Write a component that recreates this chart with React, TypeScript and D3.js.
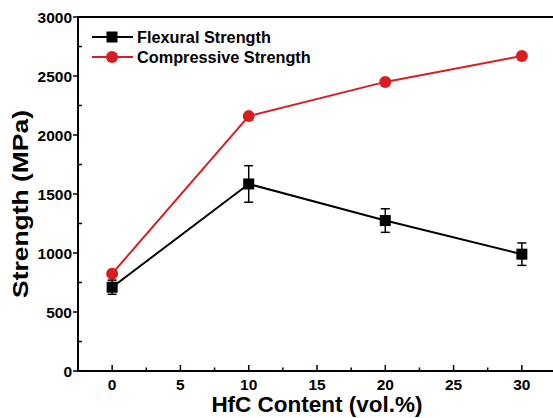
import React, { useEffect, useRef } from 'react';
import * as d3 from 'd3';

const contents = [0, 10, 20, 30];
const flexural = [710, 1585, 1275, 990];
const flexuralErr = [60, 155, 100, 95];
const compressive = [825, 2160, 2450, 2670];
const xTicks = [0, 5, 10, 15, 20, 25, 30];
const yTicks = [0, 500, 1000, 1500, 2000, 2500, 3000];
const seriesNames = ['Flexural Strength', 'Compressive Strength'];

const W = 553;
const H = 418;
const RED = '#d81e20';
const FONT = '"Liberation Sans", Arial, sans-serif';

const App: React.FC = () => {
  const svgRef = useRef<SVGSVGElement>(null);

  useEffect(() => {
    if (!svgRef.current) return;
    const svg = d3.select(svgRef.current);
    svg.selectAll('*').remove();

    const left = 78, right = 556, top = 17, bottom = 371;
    const x = d3.scaleLinear().domain([-2.5, 32.5]).range([left, right]);
    const y = d3.scaleLinear().domain([0, 3000]).range([bottom, top]);

    // frame
    svg.append('rect')
      .attr('x', left).attr('y', top)
      .attr('width', right - left).attr('height', bottom - top)
      .attr('fill', 'none').attr('stroke', '#000').attr('stroke-width', 2);

    // x ticks (inward)
    xTicks.forEach(t => {
      svg.append('line')
        .attr('x1', x(t)).attr('x2', x(t))
        .attr('y1', bottom).attr('y2', bottom - 6)
        .attr('stroke', '#000').attr('stroke-width', 1.5);
      svg.append('line')
        .attr('x1', x(t + 2.5)).attr('x2', x(t + 2.5))
        .attr('y1', bottom).attr('y2', bottom - 3.5)
        .attr('stroke', '#000').attr('stroke-width', 1.5);
      svg.append('text')
        .attr('x', x(t)).attr('y', 390)
        .attr('text-anchor', 'middle')
        .style('font-family', FONT).style('font-weight', 'bold').style('font-size', '15.5px')
        .text(t);
    });

    // y ticks
    yTicks.forEach(t => {
      svg.append('line')
        .attr('x1', left - 5).attr('x2', left)
        .attr('y1', y(t)).attr('y2', y(t))
        .attr('stroke', '#000').attr('stroke-width', 1.5);
      if (t < 3000) {
        svg.append('line')
          .attr('x1', left).attr('x2', left + 4)
          .attr('y1', y(t + 250)).attr('y2', y(t + 250))
          .attr('stroke', '#000').attr('stroke-width', 1.5);
      }
      svg.append('text')
        .attr('x', left - 6).attr('y', y(t) + 5.5)
        .attr('text-anchor', 'end')
        .style('font-family', FONT).style('font-weight', 'bold').style('font-size', '15.5px')
        .text(t);
    });

    // axis titles
    svg.append('text')
      .attr('x', 317).attr('y', 412)
      .attr('text-anchor', 'middle')
      .style('font-family', FONT).style('font-weight', 'bold').style('font-size', '22.5px')
      .text('HfC Content (vol.%)');
    svg.append('text')
      .attr('transform', `translate(28,204) rotate(-90)`)
      .attr('text-anchor', 'middle')
      .attr('textLength', 188).attr('lengthAdjust', 'spacingAndGlyphs')
      .style('font-family', FONT).style('font-weight', 'bold').style('font-size', '22.5px')
      .text('Strength (MPa)');

    const line = d3.line<number>()
      .x((_, i) => x(contents[i]))
      .y(d => y(d));

    // compressive
    svg.append('path')
      .attr('d', line(compressive) as string)
      .attr('fill', 'none').attr('stroke', RED).attr('stroke-width', 2);
    svg.selectAll('.cmp').data(compressive).enter().append('circle')
      .attr('cx', (_, i) => x(contents[i])).attr('cy', d => y(d))
      .attr('r', 6).attr('fill', RED);

    // flexural
    svg.append('path')
      .attr('d', line(flexural) as string)
      .attr('fill', 'none').attr('stroke', '#000').attr('stroke-width', 2);
    flexural.forEach((v, i) => {
      const cx = x(contents[i]);
      const e = flexuralErr[i];
      svg.append('line')
        .attr('x1', cx).attr('x2', cx).attr('y1', y(v - e)).attr('y2', y(v + e))
        .attr('stroke', '#000').attr('stroke-width', 1.5);
      [v - e, v + e].forEach(c => {
        svg.append('line')
          .attr('x1', cx - 4.5).attr('x2', cx + 4.5).attr('y1', y(c)).attr('y2', y(c))
          .attr('stroke', '#000').attr('stroke-width', 1.5);
      });
      svg.append('rect')
        .attr('x', cx - 5.5).attr('y', y(v) - 5.5)
        .attr('width', 11).attr('height', 11).attr('fill', '#000');
    });

    // legend
    seriesNames.forEach((name, i) => {
      const ly = 37 + i * 20;
      const color = i === 0 ? '#000' : RED;
      svg.append('line')
        .attr('x1', 92).attr('x2', 133).attr('y1', ly).attr('y2', ly)
        .attr('stroke', color).attr('stroke-width', 2);
      if (i === 0) {
        svg.append('rect').attr('x', 112 - 5.5).attr('y', ly - 5.5)
          .attr('width', 11).attr('height', 11).attr('fill', color);
      } else {
        svg.append('circle').attr('cx', 112).attr('cy', ly).attr('r', 6).attr('fill', color);
      }
      svg.append('text')
        .attr('x', 137).attr('y', ly + 5.5)
        .style('font-family', FONT).style('font-weight', 'bold').style('font-size', '16.3px')
        .text(name);
    });
  }, []);

  return (
    <div style={{ position: 'absolute', left: 0, top: 0, background: '#fff' }}>
      <svg ref={svgRef} width={W} height={H} style={{ display: 'block' }} />
    </div>
  );
};

export default App;
